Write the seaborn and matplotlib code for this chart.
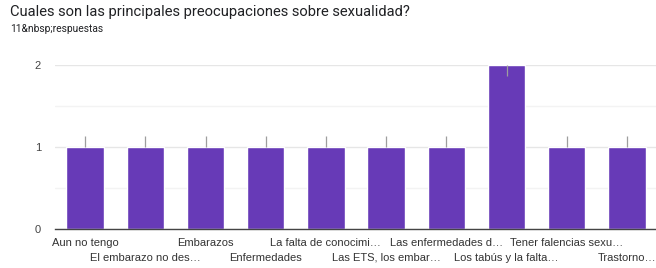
import matplotlib
matplotlib.use("Agg")
import matplotlib.pyplot as plt
import seaborn as sns
import pandas as pd

# Data
categories = [
    "Aun no tengo",
    "El embarazo no des\u2026",
    "Embarazos",
    "Enfermedades",
    "La falta de conocimi\u2026",
    "Las ETS, los embar\u2026",
    "Las enfermedades d\u2026",
    "Los tab\u00fas y la falta\u2026",
    "Tener falencias sexu\u2026",
    "Trastorno\u2026",
]
counts = [1, 1, 1, 1, 1, 1, 1, 2, 1, 1]
title = "Cuales son las principales preocupaciones sobre sexualidad?"
subtitle = "11&nbsp;respuestas"

df = pd.DataFrame({"categoria": categories, "respuestas": counts})

sns.set_style("white")
plt.rcParams["font.family"] = ["Roboto", "DejaVu Sans"]
label_font = ["Liberation Sans", "DejaVu Sans"]

fig = plt.figure(figsize=(6.56, 2.68), dpi=100)
ax = fig.add_axes([55 / 656, 1 - 229 / 268, 602 / 656, 164 / 268])

sns.barplot(data=df, x="categoria", y="respuestas", color="#673ab7",
            width=0.62, saturation=1, ax=ax, zorder=3)

# small gray tick marks at bar tops
for i, v in enumerate(counts):
    top = min(v + 0.13, 2)
    low = top - 0.13
    ax.vlines(i, low, top, color="#9e9e9e", lw=0.9, zorder=4)

ax.set_xlim(-0.5, 9.5)
ax.set_ylim(0, 2)
ax.set_yticks([0, 1, 2])
ax.set_yticks([0.5, 1.5], minor=True)
ax.grid(axis="y", which="major", color="#e6e6e6", lw=1, zorder=0)
ax.grid(axis="y", which="minor", color="#f3f3f3", lw=1, zorder=0)
for s in ["top", "right", "left"]:
    ax.spines[s].set_visible(False)
ax.spines["bottom"].set_color("#444444")
ax.spines["bottom"].set_linewidth(1)
ax.spines["bottom"].set_zorder(5)
ax.tick_params(axis="y", length=0, pad=10, labelsize=8, labelcolor="#444444")
for t in ax.get_yticklabels():
    t.set_family(label_font)
ax.tick_params(axis="x", length=0)
ax.set_xticks(range(len(categories)))
ax.set_xticklabels([])
ax.set_xlabel("")
ax.set_ylabel("")

# alternating two-row category labels
for i, lab in enumerate(categories):
    yoff = -14 if i % 2 == 0 else -29
    ax.annotate(lab, xy=(i, 0), xycoords=("data", "data"),
                xytext=(0, yoff), textcoords="offset pixels",
                ha="center", va="center", fontsize=8, color="#333333",
                family=label_font)

fig.text(10 / 656, 1 - 12 / 268, title, fontsize=10.6, color="#202124",
         ha="left", va="center")
fig.text(10 / 656, 1 - 29 / 268, subtitle, fontsize=7.4, color="#202124",
         ha="left", va="center")

fig.savefig("out.png", dpi=100)
